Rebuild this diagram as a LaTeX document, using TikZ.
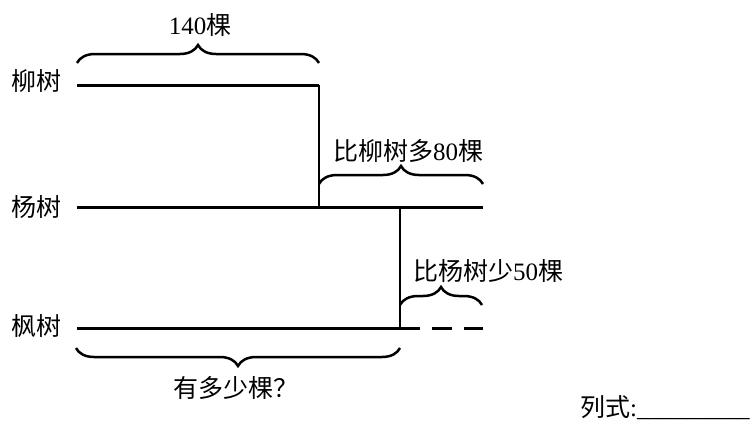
\documentclass[tikz,border=0pt]{standalone}
\usepackage{fontspec}
\setmainfont{Liberation Serif}
\newfontfamily\cjk{Noto Sans CJK SC}
\usetikzlibrary{decorations.pathreplacing}
\begin{document}
\begin{tikzpicture}[x=1pt,y=-1pt,
  mainline/.style={line width=3pt},
  thinline/.style={line width=1.1pt},
  dashline/.style={line width=3pt,dash pattern=on 20pt off 12pt},
  bracestyle/.style={decorate,decoration={brace,amplitude=18pt},line width=2.5pt},
  lbl/.style={font=\fontsize{25}{25}\selectfont,inner sep=0pt}]
\useasboundingbox (0,0) rectangle (751,421);
% coordinates
\coordinate (liuA) at (77,85);
\coordinate (liuB) at (319,85);
\coordinate (yangA) at (77,207);
\coordinate (yangM) at (319,207);
\coordinate (yangV) at (400,207);
\coordinate (yangB) at (483,207);
\coordinate (fengA) at (77,328);
\coordinate (fengM) at (400,328);
\coordinate (fengB) at (483,328);
\coordinate (b1L) at (77,63);
\coordinate (b1R) at (319,63);
\coordinate (b2L) at (319,184);
\coordinate (b2R) at (483,184);
\coordinate (b3L) at (400,305);
\coordinate (b3R) at (482,305);
\coordinate (b4L) at (76,348);
\coordinate (b4R) at (400,348);
% labels
\node[lbl,anchor=east] (liu) at (62,81) {\cjk 柳树};
\node[lbl,anchor=east] (yang) at (62,207) {\cjk 杨树};
\node[lbl,anchor=east] (feng) at (62,326) {\cjk 枫树};
\node[lbl] (t1) at (200,25) {140{\cjk 棵}};
\node[lbl] (t2) at (408,151) {{\cjk 比柳树多}80{\cjk 棵}};
\node[lbl] (t3) at (488,271) {{\cjk 比杨树少}50{\cjk 棵}};
\node[lbl] (t4) at (236,388) {\cjk 有多少棵？};
\node[lbl,anchor=west] (t5) at (580,408) {{\cjk 列式}:\_\_\_\_\_\_\_\_\_};
% lines
\draw[mainline] (liuA) -- (liuB);
\draw[mainline] (yangA) -- (yangB);
\draw[mainline] (fengA) -- (fengM);
\draw[dashline] (fengM) -- (fengB);
\draw[thinline] (liuB) -- (yangM);
\draw[thinline] (yangV) -- (fengM);
% braces
\draw[bracestyle] (b1L) -- (b1R);
\draw[bracestyle] (b2L) -- (b2R);
\draw[bracestyle] (b3L) -- (b3R);
\draw[bracestyle] (b4R) -- (b4L);
\end{tikzpicture}
\end{document}
